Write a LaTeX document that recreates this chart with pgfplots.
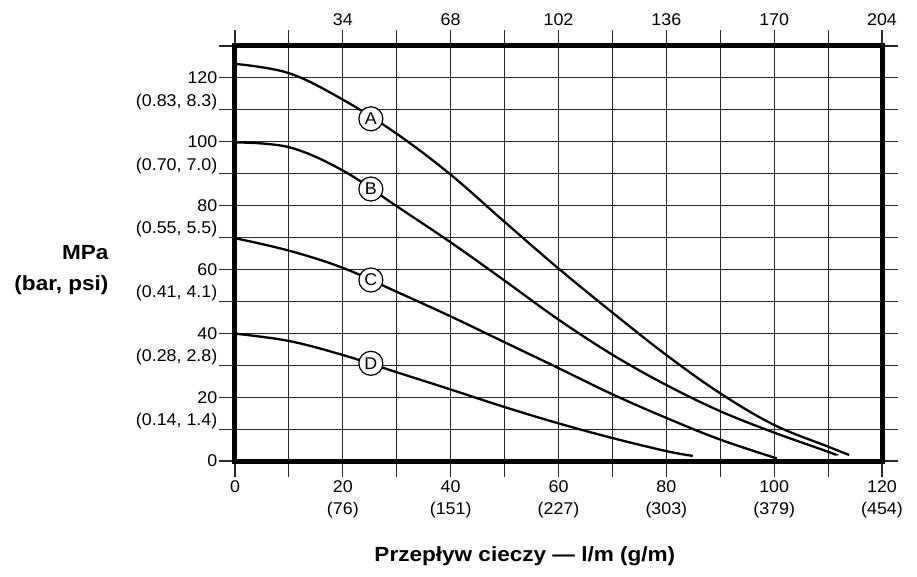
\documentclass[border=0pt]{standalone}
\usepackage{pgfplots}
\pgfplotsset{compat=1.18}
\usepackage{fontspec}
\setmainfont{Liberation Sans}
\newfontfamily\tickfont[FakeStretch=1.05]{Liberation Sans}
\newfontfamily\labfont[FakeStretch=1.1]{Liberation Sans}
\begin{document}
\begin{tikzpicture}
\begin{axis}[
  name=main,
  scale only axis, width=647pt, height=415pt,
  xmin=0, xmax=120, ymin=0, ymax=130,
  xtick={0,10,...,120}, ytick={0,10,...,130},
  xticklabels={0,,{20\\(76)},,{40\\(151)},,{60\\(227)},,{80\\(303)},,{100\\(379)},,{120\\(454)}},
  yticklabels={0,,20,,40,,60,,80,,100,,120,},
  extra y ticks={10,30,50,70,90,110},
  extra y tick labels={{(0.14, 1.4)},{(0.28, 2.8)},{(0.41, 4.1)},{(0.55, 5.5)},{(0.70, 7.0)},{(0.83, 8.3)}},
  extra y tick style={yticklabel style={yshift=8pt}},
  xtick pos=both, ytick pos=both, xticklabel pos=lower, yticklabel pos=left,
  tick align=outside, major tick length=16pt,
  tick style={black!85, line width=1.1pt},
  grid=major, major grid style={black!85, line width=1.1pt},
  axis line style={line width=5pt, black},
  xticklabel style={font=\tickfont\fontsize{17}{22}\selectfont, align=center},
  yticklabel style={font=\tickfont\fontsize{17}{22}\selectfont, inner xsep=1.5pt},
  every axis y label/.style={at={(rel axis cs:0,0.46)}, anchor=east, xshift=-123pt, align=right, font=\labfont\bfseries\fontsize{20.5}{31}\selectfont},
  every axis x label/.style={at={(rel axis cs:0.448,0)}, anchor=center, yshift=-95pt, font=\labfont\bfseries\fontsize{20.5}{24}\selectfont},
  ylabel={MPa\\(bar, psi)},
  xlabel={Przepływ cieczy — l/m (g/m)},
  circ/.style={only marks, mark=none, nodes near coords={#1},
    every node near coord/.style={circle, draw=black, fill=white, line width=1.2pt, minimum size=24pt, inner sep=0pt, anchor=center, font=\tickfont\fontsize{17}{20}\selectfont}},
]
\addplot[line width=2.3pt, smooth, tension=0.6] coordinates {(0,124.4) (10,121.5) (20,113.2) (30,102.5) (40,89.7) (50,74.9) (60,60.3) (70,46.5) (80,33.2) (90,21.2) (100,11.3) (110,4.5) (113.9,1.9)};
\addplot[line width=2.3pt, smooth, tension=0.6] coordinates {(0,99.8) (10,98.3) (20,91.0) (30,79.8) (40,68.5) (50,56.5) (60,44.3) (70,33.3) (80,23.8) (90,15.6) (100,8.9) (110,2.9) (111.3,2.0)};
\addplot[line width=2.3pt, smooth, tension=0.6] coordinates {(0,69.8) (10,65.9) (20,60.5) (30,53.0) (40,45.3) (50,37.2) (60,29.1) (70,20.9) (80,13.5) (90,6.7) (100.5,0.8)};
\addplot[line width=2.3pt, smooth, tension=0.6] coordinates {(0,39.9) (10,37.6) (20,33.2) (30,27.8) (40,22.4) (50,16.9) (60,11.8) (70,7.2) (80,3.1) (84.9,1.6)};
\addplot[circ=A] coordinates {(25.2,107.2)};
\addplot[circ=B] coordinates {(25.2,85.2)};
\addplot[circ=C] coordinates {(25.2,56.7)};
\addplot[circ=D] coordinates {(25.2,30.6)};
\end{axis}
\begin{axis}[
  scale only axis, width=647pt, height=415pt,
  xmin=0, xmax=204, ymin=0, ymax=1,
  axis x line*=top, hide y axis,
  x axis line style={draw=none},
  xtick={34,68,...,204},
  tick align=outside, major tick length=16pt,
  tick style={black!85, line width=1.1pt},
  /pgf/number format/assume math mode=true,
  xticklabel style={font=\tickfont\fontsize{17}{22}\selectfont, yshift=1pt},
]
\end{axis}
\pgfresetboundingbox
\path (main.south west) ++(-235pt,-115pt) rectangle ++(917pt,576pt);
\end{tikzpicture}
\end{document}
